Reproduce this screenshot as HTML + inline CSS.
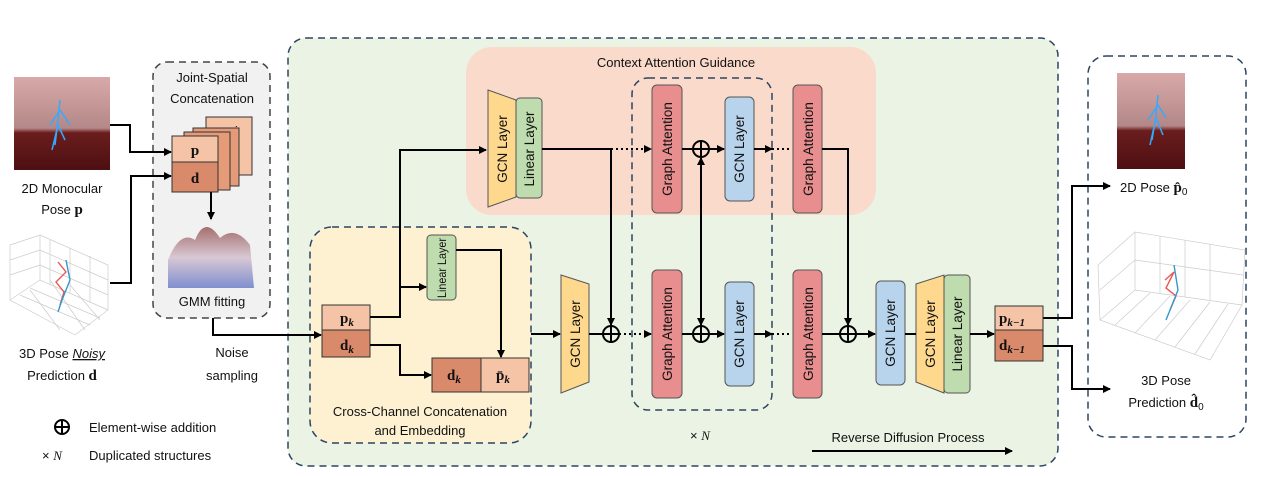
<!DOCTYPE html>
<html><head><meta charset="utf-8"><style>
html,body{margin:0;padding:0;background:#fff;}
svg{display:block;font-family:"Liberation Sans",sans-serif;}
.t{font-size:13px;fill:#111;}
.v{font-size:13.5px;fill:#111;}
.m{font-family:"Liberation Serif",serif;font-weight:bold;font-size:15px;fill:#111;}
</style></head><body>
<svg width="1286" height="477" viewBox="0 0 1286 477" xmlns="http://www.w3.org/2000/svg">
<defs>
<marker id="a" markerWidth="8" markerHeight="8" refX="7" refY="4" orient="auto" markerUnits="userSpaceOnUse"><path d="M0,0 L8,4 L0,8 z" fill="#000"/></marker>
<linearGradient id="gm" x1="0" y1="0" x2="0" y2="1"><stop offset="0" stop-color="#a4706e"/><stop offset="0.5" stop-color="#d8c8d4"/><stop offset="1" stop-color="#7f8fcf"/></linearGradient>
<linearGradient id="ph" x1="0" y1="0" x2="0" y2="1"><stop offset="0" stop-color="#d9a9a9"/><stop offset="0.55" stop-color="#b48888"/><stop offset="0.6" stop-color="#6a1d1d"/><stop offset="1" stop-color="#4e0f12"/></linearGradient>
</defs>

<rect x="288" y="38" width="770" height="428" rx="18" fill="#eaf3e4" stroke="#2d4560" stroke-width="1.5" stroke-dasharray="7,5"/>
<rect x="466" y="47" width="410" height="168" rx="26" fill="#f9dacb"/>
<text x="676" y="67" class="t" text-anchor="middle">Context Attention Guidance</text>
<rect x="310" y="227" width="221" height="216" rx="22" fill="#fdf1d2" stroke="#2d4560" stroke-width="1.5" stroke-dasharray="7,5"/>
<text x="420" y="416" class="t" text-anchor="middle">Cross-Channel Concatenation</text>
<text x="420" y="435" class="t" text-anchor="middle">and Embedding</text>
<rect x="632" y="78" width="140" height="332" rx="16" fill="none" stroke="#2d4560" stroke-width="1.5" stroke-dasharray="7,5"/>
<text x="700" y="440" class="t" text-anchor="middle">× <tspan font-style="italic" font-family="Liberation Serif">N</tspan></text>

<rect x="153" y="62" width="117" height="256" rx="14" fill="#f1f1f1" stroke="#444" stroke-width="1.5" stroke-dasharray="7,5"/>
<text x="212" y="82" class="t" text-anchor="middle">Joint-Spatial</text>
<text x="212" y="103" class="t" text-anchor="middle">Concatenation</text>
<rect x="206" y="117" width="46" height="58" fill="#f5c3a6" stroke="#333"/>
<text x="228" y="133" font-size="10">⋰</text><text x="230" y="158" font-size="10">⋰</text>
<rect x="193" y="128" width="46" height="58" fill="#e59a78" stroke="#333"/>
<rect x="184" y="132" width="46" height="58" fill="#e59a78" stroke="#333"/>
<rect x="172" y="136" width="46" height="26" fill="#f5c3a6" stroke="#333"/>
<rect x="172" y="162" width="46" height="30" fill="#d88a6a" stroke="#333"/>
<text x="195" y="155" class="m" text-anchor="middle">p</text>
<text x="195" y="183" class="m" text-anchor="middle">d</text>
<line x1="211" y1="192" x2="211" y2="219" stroke="#000" stroke-width="2" marker-end="url(#a)"/>
<path d="M168,288 L168,260 Q180,230 195,240 Q205,215 220,238 Q235,225 250,245 L254,288 Z" fill="url(#gm)"/>
<text x="212" y="306" class="t" text-anchor="middle">GMM fitting</text>

<rect x="14" y="77" width="96" height="93" fill="url(#ph)"/>
<path d="M60,100 L58,120 L55,145 M60,110 L50,125 M60,110 L70,125 M58,125 L52,150 M58,125 L65,140" stroke="#3af" stroke-width="1.5" fill="none"/>
<text x="62" y="193" class="t" text-anchor="middle" font-size="14">2D Monocular</text>
<text x="62" y="214" class="t" text-anchor="middle" font-size="14">Pose <tspan class="m">p</tspan></text>
<g stroke="#ccc" stroke-width="0.7" fill="none">
<path d="M10,245 L40,235 L108,265 L108,310 L75,335 L10,300 Z"/>
<path d="M10,300 L40,280 L108,310"/><path d="M40,235 L40,280"/>
<path d="M20,295 L90,325 M30,288 L100,318 M30,290 L60,330 M50,280 L85,330 M70,285 L100,320"/>
<path d="M10,260 L40,250 M10,275 L40,265 M50,240 L50,285 M70,248 L70,293 M90,256 L90,302 M40,250 L108,280 M40,265 L108,295"/>
</g>
<path d="M58,262 L66,272 L56,282 L64,292 L60,305" stroke="#e55" stroke-width="1.4" fill="none"/>
<path d="M66,260 L70,280 L62,300 L58,312" stroke="#39c" stroke-width="1.4" fill="none"/>
<text x="62" y="358" class="t" text-anchor="middle" font-size="14">3D Pose <tspan font-style="italic" text-decoration="underline">Noisy</tspan></text>
<text x="62" y="380" class="t" text-anchor="middle" font-size="14">Prediction <tspan class="m">d</tspan></text>
<text x="232" y="357" class="t" text-anchor="middle" font-size="14">Noise</text>
<text x="232" y="380" class="t" text-anchor="middle" font-size="14">sampling</text>

<circle cx="62" cy="427" r="7" fill="none" stroke="#000" stroke-width="2"/><path d="M55,427 H69 M62,420 V434" stroke="#000" stroke-width="2"/>
<text x="89" y="432" class="t">Element-wise addition</text>
<text x="42" y="460" class="t">× <tspan font-style="italic" font-family="Liberation Serif">N</tspan></text>
<text x="89" y="460" class="t">Duplicated structures</text>

<g stroke="#000" stroke-width="2" fill="none">
<path d="M110,125 H130 V152 H171" marker-end="url(#a)"/>
<path d="M110,283 H131 V176 H171" marker-end="url(#a)"/>
<path d="M213,318 V335 H321" marker-end="url(#a)"/>
</g>

<rect x="322" y="305" width="48" height="25" fill="#f5c3a6" stroke="#333"/>
<rect x="322" y="330" width="48" height="27" fill="#d88a6a" stroke="#333"/>
<text x="340" y="323" class="m">p<tspan font-size="11" font-style="italic" dy="3">k</tspan></text>
<text x="340" y="350" class="m">d<tspan font-size="11" font-style="italic" dy="3">k</tspan></text>
<rect x="427" y="235" width="29" height="65" rx="4" fill="#bfdcae" stroke="#555"/>
<text transform="translate(446,268) rotate(-90)" font-size="12" fill="#111" text-anchor="middle" textLength="60" lengthAdjust="spacingAndGlyphs">Linear Layer</text>
<rect x="432" y="358" width="49" height="34" fill="#d88a6a" stroke="#333"/>
<rect x="481" y="358" width="48" height="34" fill="#f5c3a6" stroke="#333"/>
<text x="447" y="380" class="m">d<tspan font-size="11" font-style="italic" dy="3">k</tspan></text>
<text x="496" y="380" class="m">p̄<tspan font-size="11" font-style="italic" dy="3">k</tspan></text>
<g stroke="#000" stroke-width="2" fill="none">
<path d="M370,317 H400 V150 H486" marker-end="url(#a)"/>
<path d="M400,287 H426" marker-end="url(#a)"/>
<path d="M456,250 H501 V357" marker-end="url(#a)"/>
<path d="M370,345 H400 V375 H431" marker-end="url(#a)"/>
<path d="M531,334 H560" marker-end="url(#a)"/>
</g>

<path d="M488,90 L516,100 L516,197 L488,207 Z" fill="#fed98d" stroke="#555"/>
<rect x="516" y="98" width="26" height="100" rx="4" fill="#bfdcae" stroke="#555"/>
<text transform="translate(507,149) rotate(-90)" class="v" text-anchor="middle">GCN Layer</text>
<text transform="translate(534,149) rotate(-90)" class="v" text-anchor="middle">Linear Layer</text>

<path d="M561,275 L589,284 L589,382 L561,393 Z" fill="#fed98d" stroke="#555"/>
<text transform="translate(580,334) rotate(-90)" class="v" text-anchor="middle">GCN Layer</text>

<g fill="#e88e8e" stroke="#555">
<rect x="652" y="85" width="30" height="128" rx="5"/>
<rect x="652" y="270" width="30" height="128" rx="5"/>
<rect x="793" y="85" width="29" height="128" rx="5"/>
<rect x="793" y="270" width="29" height="128" rx="5"/>
</g>
<g fill="#b7d4ec" stroke="#555">
<rect x="725" y="97" width="29" height="104" rx="5"/>
<rect x="725" y="282" width="29" height="104" rx="5"/>
<rect x="876" y="281" width="29" height="104" rx="5"/>
</g>
<g class="v">
<text transform="translate(672,149) rotate(-90)" text-anchor="middle">Graph Attention</text>
<text transform="translate(672,334) rotate(-90)" text-anchor="middle">Graph Attention</text>
<text transform="translate(813,149) rotate(-90)" text-anchor="middle">Graph Attention</text>
<text transform="translate(813,334) rotate(-90)" text-anchor="middle">Graph Attention</text>
<text transform="translate(744,149) rotate(-90)" text-anchor="middle">GCN Layer</text>
<text transform="translate(744,334) rotate(-90)" text-anchor="middle">GCN Layer</text>
<text transform="translate(895,333) rotate(-90)" text-anchor="middle">GCN Layer</text>
</g>
<path d="M916,284 L944,275 L944,393 L916,382 Z" fill="#fed98d" stroke="#555"/>
<rect x="944" y="275" width="26" height="118" rx="4" fill="#bfdcae" stroke="#555"/>
<text transform="translate(935,334) rotate(-90)" class="v" text-anchor="middle">GCN Layer</text>
<text transform="translate(962,334) rotate(-90)" class="v" text-anchor="middle">Linear Layer</text>

<g fill="none" stroke="#000" stroke-width="2">
<circle cx="701" cy="149" r="8"/><path d="M693,149 H709 M701,141 V157"/>
<circle cx="611" cy="334" r="8"/><path d="M603,334 H619 M611,326 V342"/>
<circle cx="701" cy="334" r="8"/><path d="M693,334 H709 M701,326 V342"/>
<circle cx="848" cy="334" r="8"/><path d="M840,334 H856 M848,326 V342"/>
</g>
<g stroke="#000" stroke-width="2" fill="none">
<path d="M542,149 H611 V325" marker-end="url(#a)"/>
<path d="M611,149 H651" stroke-dasharray="2,3" marker-end="url(#a)"/>
<path d="M682,149 H692"/><path d="M709,149 H724" marker-end="url(#a)"/>
<path d="M754,149 H772" marker-end="url(#a)"/><path d="M772,149 H792" stroke-dasharray="2,3"/>
<path d="M822,149 H848 V325" marker-end="url(#a)"/>
<path d="M701,166 V325" marker-end="url(#a)"/><path d="M701,317 V158" marker-end="url(#a)"/>
<path d="M589,334 H603"/>
<path d="M619,334 H651" stroke-dasharray="2,3" marker-end="url(#a)"/>
<path d="M682,334 H692"/><path d="M709,334 H724" marker-end="url(#a)"/>
<path d="M754,334 H772" marker-end="url(#a)"/><path d="M772,334 H792" stroke-dasharray="2,3"/>
<path d="M822,334 H840"/><path d="M856,334 H875" marker-end="url(#a)"/>
<path d="M905,334 H916"/>
<path d="M970,334 H994" marker-end="url(#a)"/>
<path d="M1043,318 H1072 V186 H1110" marker-end="url(#a)"/>
<path d="M1043,346 H1072 V389 H1110" marker-end="url(#a)"/>
<path d="M812,451 H1012" marker-end="url(#a)"/>
</g>
<rect x="995" y="306" width="48" height="24" fill="#f5c3a6" stroke="#333"/>
<rect x="995" y="330" width="48" height="31" fill="#d88a6a" stroke="#333"/>
<text x="999" y="323" class="m">p<tspan font-size="11" font-style="italic" dy="3">k−1</tspan></text>
<text x="999" y="350" class="m">d<tspan font-size="11" font-style="italic" dy="3">k−1</tspan></text>
<text x="908" y="442" class="t" text-anchor="middle" font-size="14">Reverse Diffusion Process</text>

<rect x="1088" y="56" width="158" height="381" rx="18" fill="#fff" stroke="#2d4560" stroke-width="1.5" stroke-dasharray="7,5"/>
<path d="M1072,186 H1110" stroke="#000" stroke-width="2" marker-end="url(#a)"/>
<path d="M1072,389 H1110" stroke="#000" stroke-width="2" marker-end="url(#a)"/>
<rect x="1117" y="73" width="68" height="96" fill="url(#ph)"/>
<path d="M1158,95 L1156,115 L1152,140 M1158,105 L1148,120 M1158,105 L1166,118 M1156,118 L1150,145 M1156,118 L1163,135" stroke="#3af" stroke-width="1.5" fill="none"/>
<text x="1120" y="192" class="t" font-size="14">2D Pose <tspan class="m">p̂</tspan><tspan font-size="10" dy="3">0</tspan></text>
<g stroke="#ccc" stroke-width="0.7" fill="none">
<path d="M1098,265 L1135,232 L1245,250 L1242,305 L1210,360 L1100,320 Z"/>
<path d="M1100,320 L1135,290 L1242,305"/><path d="M1135,232 L1135,290"/>
<path d="M1115,325 L1150,293 M1135,333 L1170,296 M1155,340 L1190,300 M1175,347 L1210,302 M1195,354 L1228,304"/>
<path d="M1100,290 L1135,260 M1160,236 L1160,293 M1185,240 L1185,297 M1210,244 L1210,300 M1135,260 L1243,275"/>
</g>
<path d="M1165,280 L1174,272 L1166,288 L1176,296 L1170,310" stroke="#e55" stroke-width="1.4" fill="none"/>
<path d="M1174,265 L1178,290 L1172,305 L1166,320" stroke="#39c" stroke-width="1.4" fill="none"/>
<text x="1166" y="385" class="t" text-anchor="middle" font-size="14">3D Pose</text>
<text x="1166" y="407" class="t" text-anchor="middle" font-size="14">Prediction <tspan class="m">d̂</tspan><tspan font-size="10" dy="3">0</tspan></text>
</svg>
</body></html>
